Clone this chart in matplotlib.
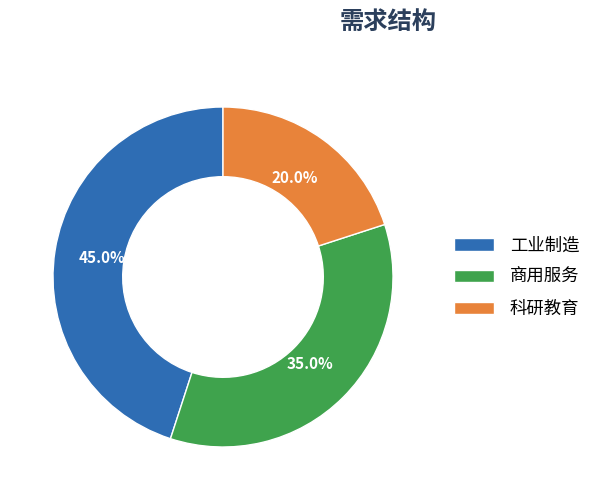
import matplotlib.pyplot as plt

plt.rcParams['font.family'] = ['Noto Sans CJK SC', 'DejaVu Sans']

labels = ['工业制造', '商用服务', '科研教育']
values = [45, 35, 20]
colors = ['#2E6DB4', '#3FA34D', '#E8833A']

fig = plt.figure(figsize=(6.05, 5.03), dpi=100)
ax = fig.add_axes([0.0876, 0.1113, 0.562, 0.676])

wedges, texts, autotexts = ax.pie(
    values, colors=colors, startangle=90, counterclock=True,
    autopct='%.1f%%', pctdistance=0.72,
    wedgeprops=dict(width=0.41, edgecolor='white', linewidth=1),
    textprops=dict(color='white', fontsize=11, fontweight='bold'))
ax.set_xlim(-1, 1)
ax.set_ylim(-1, 1)
ax.set_aspect('equal')

fig.text(0.642, 0.956, '需求结构', ha='center', va='center',
         fontsize=17.5, fontweight='bold', color='#2B3F5C')

fig.legend(wedges, labels, loc='center left', bbox_to_anchor=(0.751, 0.449),
           frameon=False, fontsize=12.5, handlelength=2.3, handleheight=0.7,
           labelspacing=0.78, handletextpad=0.9, borderpad=0, borderaxespad=0)

fig.savefig('out.png', dpi=100)
